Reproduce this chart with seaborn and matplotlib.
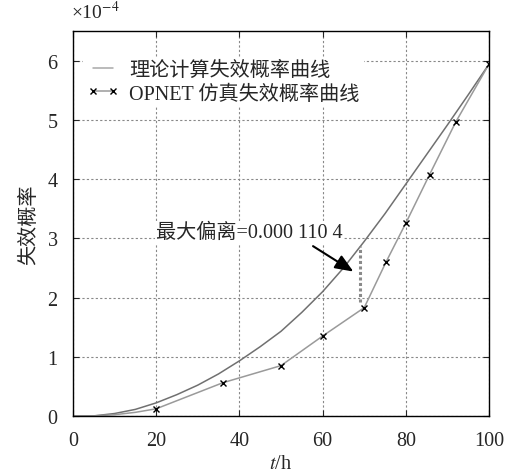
import numpy as np
import pandas as pd
import seaborn as sns
import matplotlib.pyplot as plt
from matplotlib.lines import Line2D

# theoretical failure probability curve (x1e-4)
theory_t = [0, 5, 10, 15, 20, 25, 30, 35, 40, 45, 50, 55, 60, 65, 70, 75, 80, 85, 90, 95, 100]
theory_p = [0, 0, 0.04, 0.11, 0.22, 0.36, 0.52, 0.71, 0.93, 1.17, 1.43, 1.75, 2.1, 2.5, 2.95,
            3.42, 3.92, 4.42, 4.92, 5.43, 5.95]

# OPNET simulated failure probability (x1e-4)
sim_t = [0, 5, 10, 15, 20, 36, 50, 60, 70, 75.3, 80, 85.7, 92, 100]
sim_p = [0, 0, 0.02, 0.06, 0.12, 0.56, 0.85, 1.35, 1.83, 2.61, 3.26, 4.08, 4.97, 5.95]
sim_marks = [4, 5, 6, 7, 8, 9, 10, 11, 12, 13]

# max deviation marker
dev_t = 69
dev_lo, dev_hi = 1.93, 2.87

sns.set_style('ticks')
plt.rcParams['font.family'] = ['Liberation Serif', 'Noto Sans CJK SC']
plt.rcParams['mathtext.fontset'] = 'stix'
fs = 14.5

theory_df = pd.DataFrame({'t': theory_t, 'p': theory_p})
sim_df = pd.DataFrame({'t': sim_t, 'p': sim_p})

fig = plt.figure(figsize=(5.17, 4.77), dpi=100)
ax = fig.add_axes([0.141, 0.126, 0.805, 0.806])

sns.lineplot(data=theory_df, x='t', y='p', ax=ax, color='#707070', lw=1.1, sort=False)
sns.lineplot(data=sim_df, x='t', y='p', ax=ax, color='#9a9a9a', lw=1.1, sort=False,
             marker='x', markevery=sim_marks, markersize=4.5, markeredgecolor='black',
             markeredgewidth=1.0)

ax.plot([dev_t, dev_t], [dev_lo, dev_hi], color='#8a8a8a', lw=2.2, ls=(0, (1, 0.8)))

ax.set_xlim(0, 100)
ax.set_ylim(0, 6.5)
ax.set_xticks([0, 20, 40, 60, 80, 100])
ax.set_yticks([0, 1, 2, 3, 4, 5, 6])
ax.grid(True, ls=(0, (2, 2)), color='#888888', lw=0.8)
ax.tick_params(direction='in', top=True, right=True, length=4, labelsize=fs, pad=11)
for s in ax.spines.values():
    s.set_color('black')
    s.set_linewidth(1.0)

ax.set_xlabel('$t$/h', fontsize=fs, labelpad=3)
ax.set_ylabel('失效概率', fontsize=fs, labelpad=6)
ax.text(-0.005, 1.025, '×10$^{-4}$', transform=ax.transAxes, fontsize=14, ha='left', va='bottom')

ax.text(20, 3.1, '最大偏离=0.000 110 4', fontsize=fs, ha='left', va='center',
        bbox=dict(facecolor='white', edgecolor='none', pad=1))
ax.annotate('', xy=(67.4, 2.44), xytext=(57.7, 2.87),
            arrowprops=dict(arrowstyle='-|>,head_width=0.45,head_length=1.1', color='black',
                            lw=1.5, shrinkA=0, shrinkB=0))

handles = [Line2D([], [], color='#a8a8a8', lw=1.1),
           Line2D([], [], color='#9a9a9a', lw=1.1, marker='x', markersize=4,
                  markeredgecolor='black')]
ax.legend(handles, ['理论计算失效概率曲线', 'OPNET 仿真失效概率曲线'], loc='upper left',
          bbox_to_anchor=(0.0, 0.96), frameon=True, framealpha=1, edgecolor='none',
          fancybox=False, handlelength=1.6, handletextpad=0.5, numpoints=2,
          borderpad=0.2, labelspacing=0.2, fontsize=fs)

fig.savefig('out.png', dpi=100)
